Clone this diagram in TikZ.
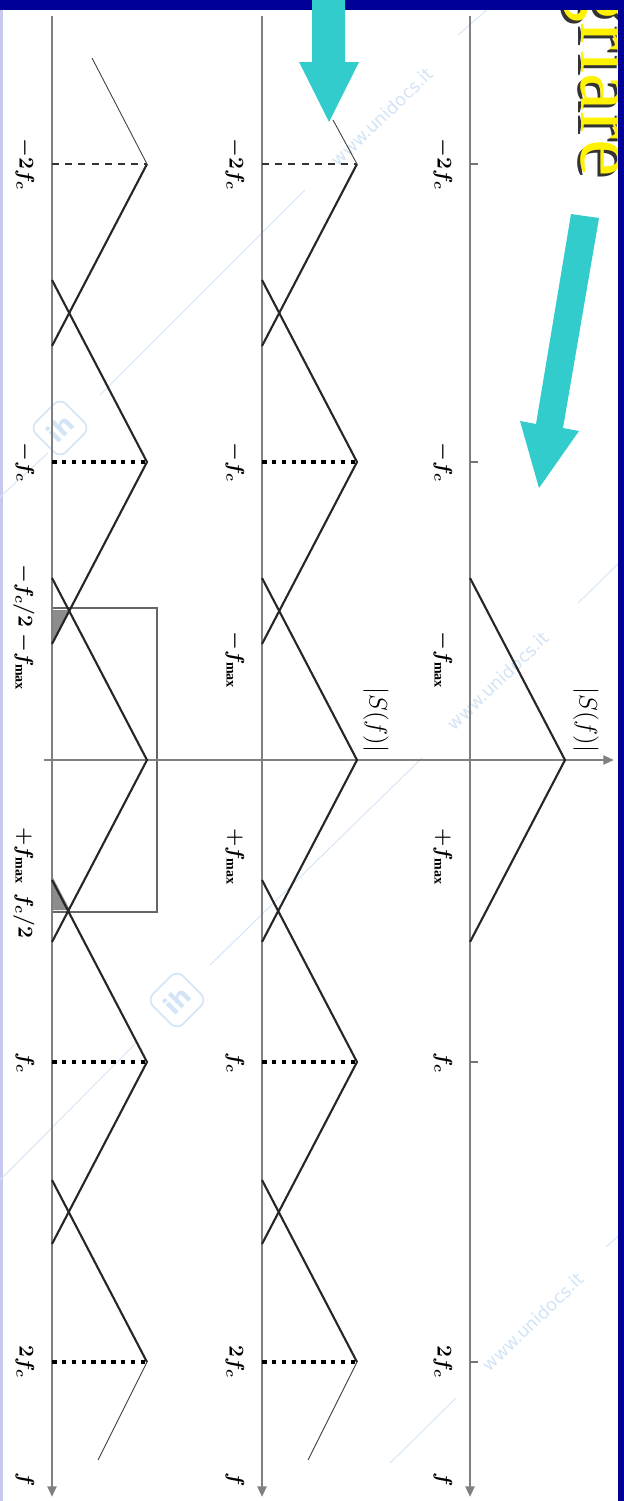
\documentclass[tikz,border=0pt]{standalone}
\usepackage{fontspec}
\setmainfont{Liberation Serif}
\setsansfont{DejaVu Sans}
\usetikzlibrary{arrows.meta}
\definecolor{slideblue}{RGB}{0,0,150}
\definecolor{slidelav}{RGB}{200,200,238}
\definecolor{cyanarr}{RGB}{51,204,204}
\definecolor{wmblue}{RGB}{210,228,246}
\tikzset{
  faxis/.style={draw=black!50, line width=1.4pt,
    -{Triangle[length=6pt,width=5pt]}},
  spline/.style={draw=black!85, line width=1.2pt},
  sptail/.style={draw=black!75, line width=0.5pt},
  cline/.style={draw=black, line width=2pt, dash pattern=on 2.6pt off 3pt},
  cdash/.style={draw=black!80, line width=1.2pt, dash pattern=on 4pt off 3.5pt},
  flab/.style={rotate=-90, font=\large\boldmath, inner sep=1pt},
  slab/.style={rotate=-90, font=\Large, inner sep=1pt},
  wmtext/.style={rotate=44, font=\sffamily, text=wmblue},
  wmline/.style={draw=wmblue, line width=0.5pt},
  wmlogo/.style={draw=wmblue, line width=0.9pt, rounded corners=5pt,
    minimum size=0.85cm, rotate=45, text=wmblue,
    font=\sffamily\bfseries\Large, inner sep=0pt},
}
\begin{document}
\begin{tikzpicture}[x=0.02cm, y=-0.02cm]
  \useasboundingbox (0,0) rectangle (624,1501);
  % Slide page
  \fill[white] (0,0) rectangle (624,1501);
  \fill[slidelav] (0,0) rectangle (3,1501);
  % Watermark
  \draw[wmline] (458,35) -- (498,0);
  \draw[wmline] (100,395) -- (305,190);
  \draw[wmline] (0,497) -- (48,453);
  \draw[wmline] (210,965) -- (422,758);
  \draw[wmline] (578,603) -- (624,558);
  \draw[wmline] (0,1180) -- (137,1042);
  \draw[wmline] (606,1247) -- (624,1231);
  \draw[wmline] (390,1463) -- (456,1398);
  \node[wmtext] (wm1) at (382,117) {www.unidocs.it};
  \node[wmtext] (wm2) at (498,681) {www.unidocs.it};
  \node[wmtext] (wm3) at (533,1322) {www.unidocs.it};
  \node[wmlogo] (logo1) at (60,428) {ih};
  \node[wmlogo] (logo2) at (177,1000) {ih};
  % Anti-aliasing window and aliased tails (left axis)
  \fill[black!45] (52,610) -- (70,610) -- (52,644) -- cycle;
  \fill[black!45] (52,910) -- (70,910) -- (52,876) -- cycle;
  \draw[black!60, line width=1.1pt] (52,608) rectangle (157,912);
  % Axes
  \draw[faxis] (44,760) -- (614,760);
  \foreach \ax in {470,262,52}
    \draw[faxis] (\ax,16) -- (\ax,1497);
  % Original spectrum (right axis)
  \draw[spline] (470,578) -- (565,760) -- (470,942);
  \foreach \y in {164,462,1062,1362}
    \draw[black!55, line width=1pt] (470,\y) -- (478,\y);
  % Sampled spectra (middle and left axes)
  \foreach \ax in {262,52} {
    \foreach \c in {462,760,1062}
      \draw[spline] (\ax,\c-182) -- (\ax+95,\c) -- (\ax,\c+182);
    \draw[spline] (\ax+95,164) -- (\ax,346);
    \draw[spline] (\ax,1180) -- (\ax+95,1362);
    \draw[sptail] (\ax+95,1362) -- (\ax+46,1460);
    \foreach \y in {462,1062,1362}
      \draw[cline] (\ax,\y) -- (\ax+95,\y);
    \draw[cdash] (\ax,164) -- (\ax+95,164);
  }
  \draw[sptail] (147,164) -- (92,58);
  \draw[sptail] (357,164) -- (333,120);
  % Labels
  \foreach \ax/\nm in {470/a,262/b,52/c} {
    \node[flab] (mtwofc\nm) at (\ax-27,164) {$-2f_c$};
    \node[flab] (mfc\nm) at (\ax-27,462) {$-f_c$};
    \node[flab] (fc\nm) at (\ax-27,1063) {$f_c$};
    \node[flab] (twofc\nm) at (\ax-27,1362) {$2f_c$};
    \node[flab] (f\nm) at (\ax-27,1480) {$f$};
  }
  \foreach \ax/\nm in {470/a,262/b} {
    \node[flab] (mfmax\nm) at (\ax-27,660) {$-f_{\max}$};
    \node[flab] (pfmax\nm) at (\ax-27,857) {$+f_{\max}$};
  }
  \node[flab] (mhalfc) at (24,596) {$-f_c/2$};
  \node[flab] (mfmaxc) at (24,662) {$-f_{\max}$};
  \node[flab] (pfmaxc) at (24,856) {$+f_{\max}$};
  \node[flab] (halfc) at (24,916) {$f_c/2$};
  \node[slab] (Sa) at (586,720) {$|S(f)|$};
  \node[slab] (Sb) at (376,720) {$|S(f)|$};
  % Slide title (cut) and frame
  \node[rotate=-90, anchor=base east, font=\fontsize{48}{50}\selectfont,
    text=black!80, inner sep=0pt] (titlesh) at (578,180) {griare};
  \node[rotate=-90, anchor=base east, font=\fontsize{48}{50}\selectfont,
    text=yellow, inner sep=0pt] (title) at (581,177) {griare};
  \fill[slideblue] (0,0) rectangle (624,10);
  \fill[slideblue] (618,0) rectangle (624,1501);
  % Cyan pointers
  \fill[cyanarr] (312,0) -- (345,0) -- (345,62) -- (359,62) -- (329,122)
    -- (299,62) -- (312,62) -- cycle;
  \fill[cyanarr] (599,218) -- (571,214) -- (536,424) -- (520,421)
    -- (539,488) -- (579,431) -- (563,428) -- cycle;
\end{tikzpicture}
\end{document}
